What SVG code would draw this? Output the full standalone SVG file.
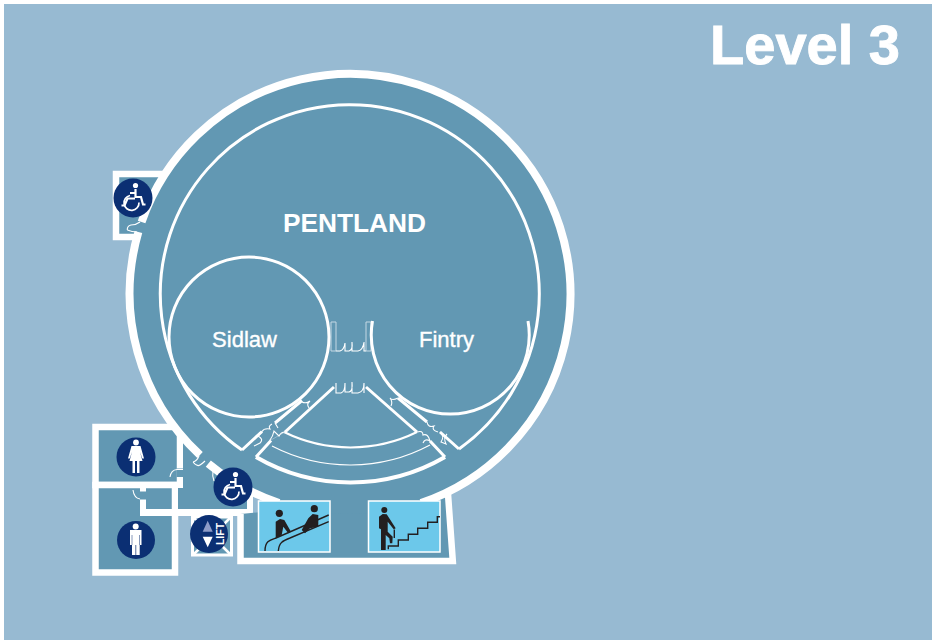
<svg xmlns="http://www.w3.org/2000/svg" width="932" height="641" viewBox="0 0 932 641">
<style>
.room{fill:#6298B3;stroke:#fff;stroke-width:6.5}
.dark{fill:#6298B3}
.wall{fill:#fff}
.ring{fill:none;stroke:#fff;stroke-width:8}
.l3{fill:none;stroke:#fff;stroke-width:3}
.l4{fill:none;stroke:#fff;stroke-width:4}
.l2{fill:none;stroke:#fff;stroke-width:2}
.thin{fill:none;stroke:#fff;stroke-width:1.100}
.pale{fill:none;stroke:#C4D8E4;stroke-width:1}
.badge{fill:#0B2F73}
.sign{fill:#6CC8EA;stroke:#fff;stroke-width:1.5}
.ink{fill:#231F20}
.rail{fill:none;stroke:#231F20;stroke-width:1.4}
.lab{font-family:"Liberation Sans",Arial,sans-serif;fill:#fff;text-anchor:middle}
.semi{stroke:#fff;stroke-width:0.350}
.heavy{stroke:#fff;stroke-width:0.900}
.wc-a{fill:none;stroke:#fff;stroke-width:2.200}
.wc-b{fill:none;stroke:#fff;stroke-width:1.700}
</style>
<defs>
<g id="wheelchair">
<circle r="19.5" class="badge"/>
<circle cx="2.500" cy="-12.500" r="2.600" fill="#fff"/>
<path d="M2.500,-9V-1H8L10,6.500H12.500M-3,-5H2.500" class="wc-a"/>
<path d="M6,4.500A7.500,7.500 0 1 1 -3,-2.500" class="wc-b"/>
<path d="M-11.500,7.500H-8.500L-5.500,0.500H2" class="wc-a"/>
</g>
</defs>
<rect width="932" height="641" fill="#fff"/>
<rect x="4" y="4" width="928" height="636" fill="#97BAD2"/>

<g id="room-accessible-wc">
<rect x="116" y="174" width="60" height="63" class="room"/>
</g>
<g id="room-female">
<rect x="95.500" y="427" width="84.500" height="58" class="room"/>
</g>
<g id="room-male">
<rect x="95.500" y="485" width="79.500" height="87.500" class="room"/>
</g>
<g id="lobby">
<path d="M183,430H253V510H178V488H183Z" class="dark"/>
<rect x="140" y="509" width="113" height="7" class="wall"/>
<rect x="140" y="499" width="6" height="17" class="wall"/>
<rect x="140" y="487" width="6" height="5" class="wall"/>
<rect x="136" y="491.500" width="11" height="8" class="dark"/>
<rect x="247" y="495" width="6" height="21" class="wall"/>
<rect x="176.500" y="468.500" width="7" height="8.500" class="dark"/>
<path d="M170,477Q171,470 177,469.500H183" class="thin"/>
<path d="M133,490Q134,498 140,499" class="thin"/>
</g>
<g id="lift">
<rect x="192.500" y="517" width="39" height="38" fill="#6298B3" stroke="#fff" stroke-width="3"/>
<path d="M193,517L231,555M231,517L193,555" stroke="#fff" stroke-width="2.500"/>
<circle cx="209" cy="534" r="19" class="badge"/>
<path d="M207.700,520.700L202.700,531.700H212.700Z" fill="#8E9CC8"/>
<path d="M202.700,536.700H212.700L207.700,547.300Z" fill="#fff"/>
<text transform="translate(223.500,534) rotate(-90)" class="lab" font-size="10.500" font-weight="700">LIFT</text>
</g>
<g id="stairs-lobby">
<path d="M240.500,514V561H452.800L448,494" fill="#6298B3" stroke="#fff" stroke-width="6.500"/>
</g>
<g id="rotunda">
<circle cx="350" cy="294" r="220" class="dark"/>
</g>
<g id="connectors">
<path d="M279,503A220.500,220.500 0 0 1 208.300,463.700M200,455A220.500,220.500 0 0 1 138.400,232M141.600,222A220.500,220.500 0 1 1 421,503" class="ring"/>
<path d="M242,450A189.500,189.500 0 1 1 459,449" class="l3"/>
<path d="M242,450L262,431.500M275,423L302,400.500M459,449L440,432M427,422L398,398" class="l3"/>
<path d="M334,387L285,432M366,387L417,432" class="l3"/>
<path d="M271,440.500L256,457M430,441L445,457" class="l3"/>
<path d="M284,432A151,151 0 0 0 417,432" class="l2"/>
<path d="M272,446A170,170 0 0 0 430,445" class="thin"/>
<path d="M256,457A188,188 0 0 0 445,457" class="l4"/>
<path d="M271,440L285,432" stroke="#A9C6D6" stroke-width="0.700" fill="none"/>
<path d="M262,431.500L258,436Q264,439 260,443L254,446M262,431.500Q264,428 270,429Q268,426 272,424M275,423L278,428M285,432Q281,432 279,436L274,431Q273,436 270,440" class="thin"/>
<path d="M302,402Q306,404 310,401Q306,404 309,408" class="thin"/>
<path d="M398,398Q392,401 390,398Q393,402 391,406" class="thin"/>
<path d="M427,422Q428,428 434,426Q431,430 438,432M440,432Q445,436 441,442L446,444Q443,438 447,434M417,432Q423,430 423,435Q428,433 430,441Q425,438 423,443" class="thin"/>
<path d="M331,322H336V351H331ZM366,322H371V351H366Z" class="pale"/>
<path d="M336,351H340Q344,350 345,343V351H349Q353,350 352,342V351H358Q363,350 364,342V351H366" class="thin"/>
<path d="M336,383V393H341Q345,392 345,383V392H349Q353,391 352,382V393H358Q364,392 364,383V393" class="thin"/>
</g>
<g id="sidlaw">
<circle cx="249" cy="337" r="80" class="l3"/>
<text x="244.500" y="347" class="lab semi" font-size="22">Sidlaw</text>
</g>
<g id="fintry">
<path d="M372.500,321A79,79 0 1 0 528,321" class="l3"/>
<text x="446.500" y="347" class="lab semi" font-size="22">Fintry</text>
</g>
<g id="pentland">
<text x="354.500" y="232" class="lab" font-size="26.300" font-weight="700">PENTLAND</text>
</g>
<g id="title">
<text x="805" y="64" class="lab heavy" font-size="56" font-weight="700">Level 3</text>
</g>
<g id="badge-wheelchair-top"><use href="#wheelchair" x="133" y="198"/></g>
<g id="badge-wheelchair-lobby"><use href="#wheelchair" x="233" y="487"/></g>
<g id="badge-female">
<circle cx="136" cy="457" r="19.500" class="badge"/>
<circle cx="136" cy="442.500" r="2.900" fill="#fff"/>
<path d="M131.500,446H140.500L144,458.500H142.300L140,452L142.500,461H139.500V473H137V461H135V473H132.500V461H129.500L132,452L129.700,458.500H128Z" fill="#fff"/>
</g>
<g id="badge-male">
<circle cx="136" cy="540" r="19" class="badge"/>
<circle cx="135.700" cy="526.500" r="3" fill="#fff"/>
<path d="M130,530H141.500V545H139.700V555H136.200V545H135.500V555H132V545H130Z" fill="#fff"/>
<path d="M132,535V545M139.500,535V545" stroke="#0B2F73" stroke-width="0.500"/>
</g>
<g id="sign-escalator">
<rect x="258.500" y="501" width="71.500" height="51" class="sign"/>
<circle cx="279.300" cy="513.300" r="3.600" class="ink"/>
<circle cx="314.300" cy="508.700" r="3.600" class="ink"/>
<path d="M275.700,538.300V521.700L280,519L284.300,520L291,531.700L288.300,533.300L283.300,526.700L281.700,535Z" class="ink"/>
<path d="M301.700,530L308.300,518.300L312.700,514L318.300,515V526.700L310,528.300L305,533.300Z" class="ink"/>
<path d="M265,551C265,541 270,540 276,538L328.700,515M278.300,551C279,543 282,541 290,538L328.700,521.700" class="rail"/>
</g>
<g id="sign-stairs">
<rect x="368.500" y="501" width="71.500" height="51" class="sign"/>
<circle cx="384.300" cy="510" r="3" class="ink"/>
<path d="M379,516.700L382.700,514L386.700,514.300L395.700,528.300L393.700,529.300L387.700,521.700V531.700L392.700,536.700L392.300,543.300H390L389.300,538.300L385.700,535V550H381V529.300L379,528.300Z" class="ink"/>
<path d="M394.300,529.500V538" class="rail"/>
<path d="M388.300,549.300V546H398.300V540H408.300V534.300H417.700V528.300H427.700V522.300H437.300V516.700H440" class="rail"/>
</g>
<g id="door-marks">
<path d="M127.300,230Q127,226 131,225Q136,225 140,222M127.300,230Q132,232 137,232" class="thin"/>
<path d="M193,462Q197,467 200,465Q203,463 205,461M193,462Q197,461 199,456M213,471Q212,476 214,481" class="thin"/>
</g>
</svg>
